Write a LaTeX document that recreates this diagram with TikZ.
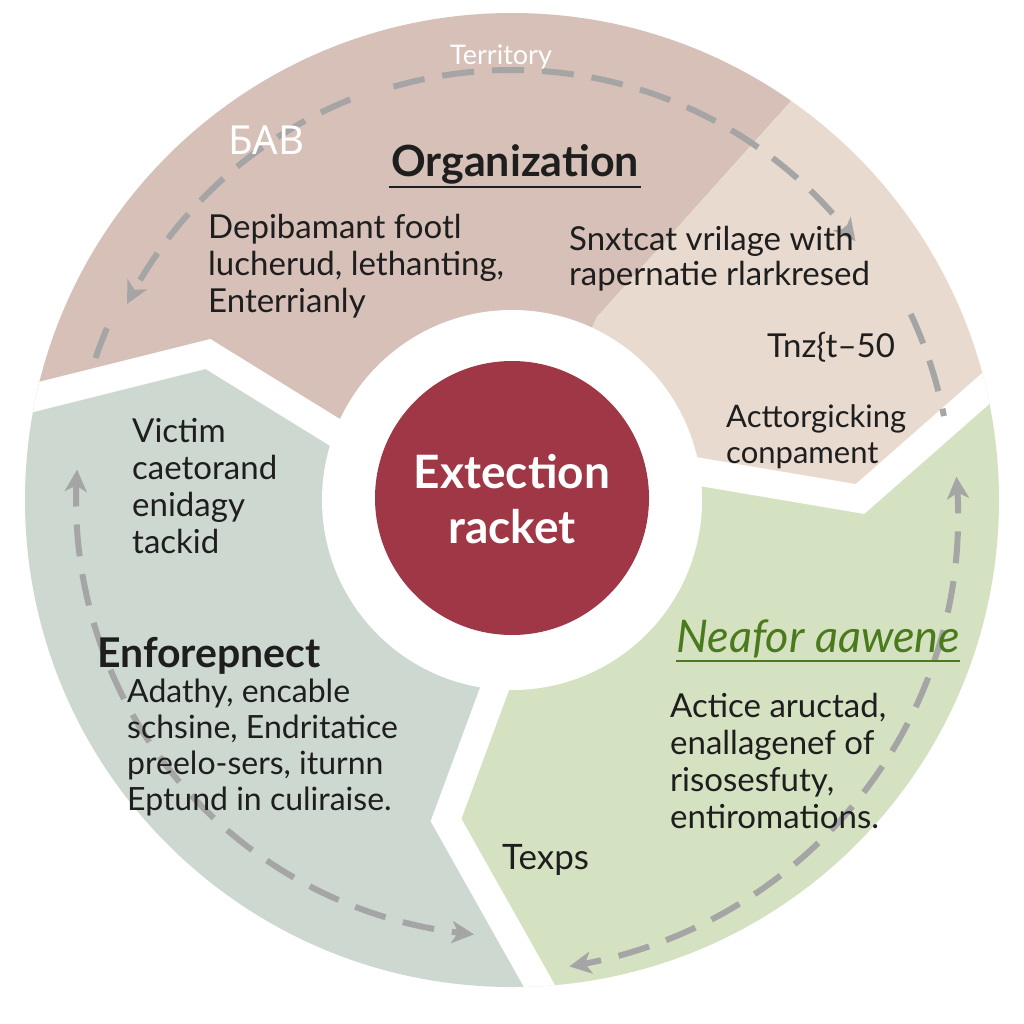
\documentclass[tikz,border=0pt]{standalone}
\usepackage{fontspec}
\setmainfont{Lato}
\newfontfamily\notosans{Noto Sans}
\usetikzlibrary{arrows.meta}
\definecolor{rosec}{HTML}{D6C0B8}
\definecolor{beigec}{HTML}{E8DACF}
\definecolor{greenc}{HTML}{D5E2C2}
\definecolor{grayc}{HTML}{CDD8D0}
\definecolor{redc}{HTML}{A03746}
\definecolor{dashc}{HTML}{A5A5A5}
\definecolor{txt}{HTML}{1E1E1E}
\definecolor{greentxt}{HTML}{4B7A1C}
\begin{document}
\begin{tikzpicture}[x=1pt,y=-1pt,
  gapline/.style={white,line width=28pt,line join=miter,line cap=butt},
  dashline/.style={dashc,line width=6pt,dash pattern=on 32pt off 18pt},
  tip/.style={-{Stealth[length=22pt,width=22pt,inset=6pt]}},
  twotips/.style={{Stealth[length=22pt,width=22pt,inset=6pt]}-{Stealth[length=22pt,width=22pt,inset=6pt]}},
  body/.style={font=\fontsize{32}{37}\selectfont,text=txt,inner sep=0pt,anchor=base west},
  head/.style={font=\fontsize{43}{48}\selectfont\bfseries,text=txt,inner sep=0pt,anchor=base west},
  wlabel/.style={text=white,inner sep=0pt}]
\useasboundingbox (0,0) rectangle (1024,1024);
\fill[white] (0,0) rectangle (1024,1024);

% ring segments
\begin{scope}
\clip (512,500) circle[radius=487pt];
\fill[rosec] (512,500) -- (331,430) -- (208,354) -- (-60,421) -- (-60,-100) -- (925,-48) -- (597,317) -- cycle;
\fill[beigec] (512,500) -- (597,317) -- (925,-48) -- (1100,-48) -- (1100,290) -- (1083,303) -- (860,499) -- (702,472) -- cycle;
\fill[greenc] (512,500) -- (702,472) -- (860,499) -- (1083,303) -- (1100,290) -- (1100,1100) -- (585,1067) -- (446,820) -- (494,691) -- cycle;
\fill[grayc] (512,500) -- (494,691) -- (446,820) -- (585,1067) -- (-100,1100) -- (-60,421) -- (208,354) -- (331,430) -- cycle;
\draw[gapline] (-60,421) -- (208,354) -- (420,485);
\draw[gapline] (600,455) -- (860,499) -- (1083,303);
\draw[gapline] (520,620) -- (446,820) -- (585,1067);
\end{scope}
\fill[white] (512,500) circle[radius=190pt];

% dashed cycle arrows
\draw[dashline,tip] plot[domain=106:37,samples=60] ({512+430*cos(\x)},{500-430*sin(\x)});
\draw[dashline] plot[domain=25:11,samples=20] ({512+440*cos(\x)},{500-440*sin(\x)});
\draw[dashline,tip] plot[domain=112:153,samples=40] ({512+432*cos(\x)},{500-432*sin(\x)});
\draw[dashline] plot[domain=157:162,samples=10] ({512+440*cos(\x)},{500-440*sin(\x)});
\draw[dashline,twotips] plot[domain=176:265,samples=70] ({512+436*cos(\x)},{500-436*sin(\x)});
\draw[dashline,twotips] plot[domain=3:-83,samples=70] ({512+(445+(3-\x)*0.29)*cos(\x)},{500-(445+(3-\x)*0.29)*sin(\x)});

% centre
\node[circle,fill=redc,minimum size=274pt,inner sep=0pt] (core) at (512,498) {};
\node[text=white,font=\fontsize{46}{55}\selectfont\bfseries,inner sep=0pt,anchor=base] (coretxt) at (512,488)
  {\begin{tabular}[t]{@{}c@{}}Extection\\racket\end{tabular}};

% white labels on the arc
\node[wlabel,font=\fontsize{27}{30}\selectfont,anchor=base west] (terr) at (450,65) {Territory};
\node[wlabel,font=\fontsize{40}{44}\selectfont\notosans,anchor=base west] (bab) at (228,155) {БAB};

% Organization
\node[head,anchor=base] (orgt) at (515,177) {Organization};
\draw[txt,line width=2.5pt] ([shift={(-2pt,-10pt)}]orgt.base west) -- ([shift={(2pt,-10pt)}]orgt.base east);
\node[body,font=\fontsize{33}{37}\selectfont] (orgb) at (208,238) {\begin{tabular}[t]{@{}l@{}}Depibamant footl\\lucherud, lethanting,\\Enterrianly\end{tabular}};

% beige texts
\node[body,font=\fontsize{33}{35}\selectfont] (beb) at (569,251) {\begin{tabular}[t]{@{}l@{}}Snxtcat vrilage with\\rapernatie rlarkresed\end{tabular}};
\node[body,font=\fontsize{33}{35}\selectfont] (bet) at (767,357) {Tnz\{t–50};
\node[body,font=\fontsize{31}{36}\selectfont] (bec) at (726,427) {\begin{tabular}[t]{@{}l@{}}Acttorgicking\\conpament\end{tabular}};

% left segment
\node[body,font=\fontsize{33}{37}\selectfont] (vic) at (132,442) {\begin{tabular}[t]{@{}l@{}}Victim\\caetorand\\enidagy\\tackid\end{tabular}};
\node[head,font=\fontsize{41}{46}\selectfont\bfseries] (enft) at (97,667) {Enforepnect};
\node[body,font=\fontsize{32}{36}\selectfont] (enfb) at (127,702) {\begin{tabular}[t]{@{}l@{}}Adathy, encable\\schsine, Endritatice\\preelo-sers, iturnn\\Eptund in culiraise.\end{tabular}};

% green segment
\node[inner sep=0pt,anchor=base west,text=greentxt,font=\fontsize{45}{48}\selectfont\itshape] (neat) at (676,652) {Neafor aawene};
\draw[greentxt,line width=2.5pt] ([shift={(0pt,-9pt)}]neat.base west) -- ([shift={(0pt,-9pt)}]neat.base east);
\node[body,font=\fontsize{33}{37}\selectfont] (neab) at (670,717) {\begin{tabular}[t]{@{}l@{}}Actice aructad,\\enallagenef of\\risosesfuty,\\entiromations.\end{tabular}};
\node[body,font=\fontsize{35}{37}\selectfont] (texps) at (502,869) {Texps};
\end{tikzpicture}
\end{document}
